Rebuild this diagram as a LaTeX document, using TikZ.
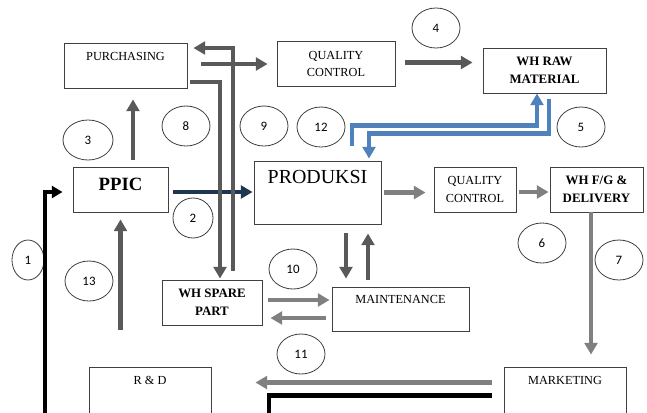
\documentclass[tikz,border=0pt]{standalone}
\usepackage{fontspec}
\setmainfont{Liberation Serif}
\newfontfamily\numfont{Carlito}
\usepackage{tikz}
\usetikzlibrary{arrows.meta, shapes.geometric, calc}
\definecolor{boxline}{HTML}{404040}
\definecolor{arrdark}{HTML}{595959}
\definecolor{arrlight}{HTML}{808080}
\definecolor{navy}{HTML}{1F3550}
\definecolor{arrblue}{HTML}{4F81BD}
\newlength{\pxu}\setlength{\pxu}{0.03cm}

\begin{document}
\begin{tikzpicture}[x=0.03cm, y=-0.03cm,
  box/.style={draw=boxline, line width=0.8pt, inner sep=0pt, align=center, font=\fontsize{10.5}{15}\selectfont},
  wbox/.style={box, font=\fontsize{11}{15}\selectfont\bfseries},
  num/.style={draw=boxline, line width=0.7pt, ellipse, minimum width=48\pxu, minimum height=40\pxu, inner sep=0pt, font=\numfont\fontsize{11}{13}\selectfont},
  tip/.style={-{Triangle[width=11pt,length=10pt]}},
  darr/.style={draw=arrdark, line width=3.8pt, tip},
  larr/.style={draw=arrlight, line width=3.5pt, tip},
  barr/.style={draw=arrblue, line width=4pt, tip},
  blk/.style={draw=black, line width=3.5pt}]
\useasboundingbox (0,0) rectangle (647,412);

% boxes
\node[box, minimum width=123\pxu, text height=17\pxu, text depth=28\pxu] (purch) at (125.5,65.5) {PURCHASING};
\node[box, minimum width=118\pxu, minimum height=45\pxu] (qctop) at (336,64) {QUALITY\\CONTROL};
\node[wbox, minimum width=123\pxu, minimum height=45\pxu] (whraw) at (544.5,70.5) {WH RAW\\MATERIAL};
\node[box, font=\fontsize{16}{18}\selectfont\bfseries, minimum width=95\pxu, text height=23\pxu, text depth=22\pxu] (ppic) at (120.5,189.5) {PPIC};
\node[box, font=\fontsize{17}{19}\selectfont, minimum width=127\pxu, text height=22\pxu, text depth=41\pxu] (prod) at (317.5,192.5) {PRODUKSI};
\node[box, minimum width=82\pxu, minimum height=45\pxu] (qcmid) at (475,189.5) {QUALITY\\CONTROL};
\node[wbox, minimum width=93\pxu, minimum height=45\pxu] (whfg) at (596.5,189.5) {WH F/G \&\\DELIVERY};
\node[wbox, minimum width=100\pxu, minimum height=45\pxu] (whsp) at (212,302.5) {WH SPARE\\PART};
\node[box, minimum width=137\pxu, text height=16.5\pxu, text depth=27.5\pxu] (maint) at (400.5,309) {MAINTENANCE};
\node[box, minimum width=122\pxu, text height=17\pxu, text depth=33\pxu] (rnd) at (150,392) {R \& D};
\node[box, minimum width=122\pxu, text height=17\pxu, text depth=33\pxu] (mkt) at (565,392) {MARKETING};

% step numbers
\node[num, minimum width=32\pxu] (n1) at (28,260) {1};
\node[num, minimum width=40\pxu] (n2) at (193,218) {2};
\node[num, minimum width=50\pxu] (n3) at (88,140) {3};
\node[num] (n4) at (436,28) {4};
\node[num] (n5) at (581,127) {5};
\node[num] (n6) at (542,243) {6};
\node[num] (n7) at (619,260) {7};
\node[num] (n8) at (186,126) {8};
\node[num] (n9) at (264,126) {9};
\node[num] (n10) at (293,269) {10};
\node[num] (n11) at (301,354) {11};
\node[num] (n12) at (321,127) {12};
\node[num] (n13) at (89,281) {13};

% flows
\draw[darr, shorten >=11\pxu] ([xshift=12.5\pxu,yshift=7\pxu]ppic.north) coordinate (a1) -- (a1 |- purch.south);
\draw[darr, shorten <=37\pxu, shorten >=7\pxu] (ppic.south |- rnd.north) -- (ppic.south);
\draw[draw=navy, line width=4pt, tip, shorten <=5\pxu, shorten >=1\pxu] ([yshift=-2.5\pxu]ppic.east) coordinate (c1) -- (c1 -| prod.west);
\draw[larr, shorten <=3\pxu, shorten >=8\pxu] (prod.east) -- (prod.east -| qcmid.west);
\draw[larr, shorten <=3\pxu, shorten >=1\pxu] ([yshift=-2.5\pxu]qcmid.east) coordinate (e1) -- (e1 -| whfg.west);
\draw[larr, line width=3.2pt, shorten >=12\pxu] ([xshift=-5.5\pxu]whfg.south) coordinate (f1) -- (f1 |- mkt.north);
\draw[larr, shorten >=44\pxu] ([xshift=-12\pxu,yshift=-16\pxu]mkt.north west) coordinate (g1) -- (g1 -| rnd.east);
\draw[darr, shorten <=14\pxu, shorten >=9\pxu] ([yshift=1.5\pxu]purch.east) coordinate (h1) -- (h1 -| qctop.west);
\draw[darr, shorten <=10\pxu, shorten >=10\pxu] ([yshift=1.5\pxu]qctop.east) coordinate (i1) -- (i1 -| whraw.west);
\draw[darr, shorten >=6\pxu] ([xshift=21\pxu,yshift=9\pxu]whsp.north) |- ([yshift=17.5\pxu]purch.east);
\draw[darr, shorten >=1\pxu] ([xshift=3\pxu,yshift=-16.5\pxu]purch.east) -| ([xshift=8\pxu]whsp.north);
\draw[darr, shorten >=8\pxu] ([xshift=28.5\pxu,yshift=-9\pxu]prod.south) coordinate (l1) -- (l1 |- maint.north);
\draw[darr, shorten >=9\pxu] ([xshift=-32.5\pxu,yshift=7\pxu]maint.north) coordinate (m1) -- (m1 |- prod.south);
\draw[larr, shorten <=6\pxu, shorten >=2\pxu] ([yshift=2.5\pxu]whsp.east) coordinate (o1) -- (o1 -| maint.west);
\draw[larr, shorten <=6\pxu, shorten >=8\pxu] ([yshift=-9\pxu]maint.west) coordinate (o2) -- (o2 -| whsp.east);
\draw[barr] ([xshift=34.5\pxu,yshift=15\pxu]prod.north) -- ++(0,-20) -| ([xshift=-7.5\pxu]whraw.south);
\draw[barr, shorten >=2\pxu] ([xshift=4.5\pxu,yshift=-6\pxu]whraw.south) -- ++(0,34) -| ([xshift=51.5\pxu]prod.north);

% black lines entering from below
\coordinate (blkA) at (45,420);
\coordinate (blkB) at (269,420);
\draw[blk, -{Triangle[width=10pt,length=9pt]}, shorten >=10\pxu] (blkA) |- ([yshift=-2.5\pxu]ppic.west);
\draw[blk] (blkB) |- ([xshift=-12\pxu,yshift=-29\pxu]mkt.north west);
\end{tikzpicture}
\end{document}
